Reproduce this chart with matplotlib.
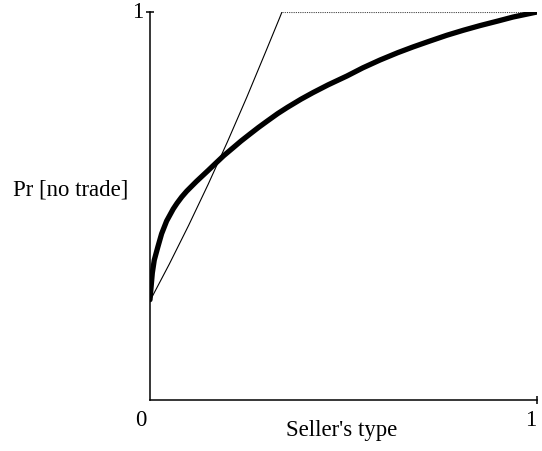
import matplotlib
matplotlib.use("Agg")
import matplotlib.pyplot as plt

# Thick curve
thick_x = [0.0, 0.003, 0.006, 0.011, 0.020, 0.030, 0.043, 0.060, 0.070, 0.082, 0.095,
           0.108, 0.120, 0.135, 0.150, 0.172, 0.190, 0.215, 0.235, 0.258, 0.280,
           0.302, 0.330, 0.355, 0.390, 0.421, 0.460, 0.509, 0.550, 0.594, 0.640,
           0.680, 0.720, 0.767, 0.810, 0.853, 0.900, 0.938, 1.0]
thick_y = [0.258, 0.293, 0.327, 0.360, 0.393, 0.428, 0.461, 0.492, 0.507, 0.523, 0.538,
           0.551, 0.563, 0.577, 0.591, 0.612, 0.629, 0.650, 0.667, 0.685, 0.702,
           0.718, 0.738, 0.754, 0.775, 0.792, 0.812, 0.835, 0.856, 0.876, 0.895,
           0.910, 0.924, 0.940, 0.953, 0.965, 0.977, 0.987, 1.0]

# Thin curve
thin_x = [0.0, 0.05, 0.10, 0.15, 0.20, 0.25, 0.30, 0.335, 0.341]
thin_y = [0.255, 0.350, 0.450, 0.555, 0.665, 0.780, 0.900, 0.985, 1.0]

# Dotted flat segment
flat_x = [0.341, 1.0]
flat_y = [1.0, 1.0]

x_ticklabels = ["0", "1"]
y_ticklabel = "1"
xlabel = "Seller's type"
ylabel = "Pr [no trade]"

plt.rcParams['font.family'] = ['Liberation Serif', 'DejaVu Serif']

fig = plt.figure(figsize=(5.42, 4.52), dpi=100)
ax = fig.add_axes([150/542, (452-400.7)/452, 387/542, 387.7/452])
ax.set_xlim(0, 1)
ax.set_ylim(0, 1)
for s in ['top', 'right']:
    ax.spines[s].set_visible(False)
for s in ['left', 'bottom']:
    ax.spines[s].set_linewidth(1.1)
    ax.spines[s].set_color('black')

ax.plot(thin_x, thin_y, color='black', lw=0.8, solid_joinstyle='round')
ax.plot(flat_x, flat_y, color='#444444', lw=0.8, linestyle=(0, (1, 1)))
ax.plot(thick_x, thick_y, color='black', lw=3.8, solid_capstyle='round',
        solid_joinstyle='round', zorder=3)

ax.set_xticks([1.0])
ax.set_xticklabels([])
ax.set_yticks([1.0])
ax.set_yticklabels([])
ax.tick_params(direction='inout', length=6, width=1.1, colors='black')

fs = 16.4
ax.text(-0.025, -0.025, x_ticklabels[0], ha='center', va='top', fontsize=fs)
ax.text(0.998, -0.025, x_ticklabels[1], ha='right', va='top', fontsize=fs)
ax.text(-0.018, 1.0, y_ticklabel, ha='right', va='center', fontsize=fs)
ax.text(0.494, -0.05, xlabel, ha='center', va='top', fontsize=fs)
ax.text(-0.055, 0.543, ylabel, ha='right', va='center', fontsize=fs)

fig.savefig("out.png", dpi=100)
